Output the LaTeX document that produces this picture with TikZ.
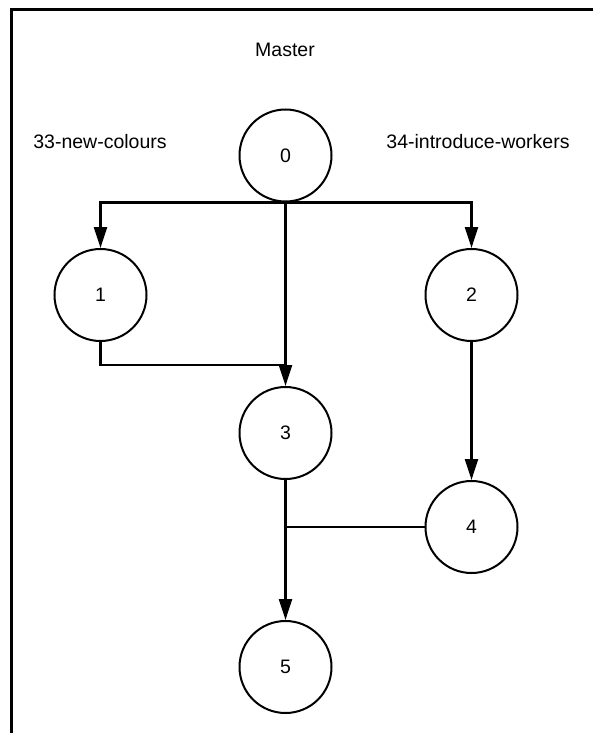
\documentclass[tikz,border=0pt]{standalone}
\usepackage{fontspec}
\setmainfont{Liberation Sans}
\usetikzlibrary{arrows.meta}
\begin{document}
\begin{tikzpicture}[x=1pt,y=-1pt,
  statenode/.style={draw=black,line width=2pt,circle,minimum size=92pt,inner sep=0pt,font=\fontsize{19.5}{23}\selectfont},
  lbl/.style={font=\fontsize{19.5}{23}\selectfont,inner sep=0pt},
  conn/.style={line width=2.3pt,draw=black},
  arr/.style={conn,-{Triangle[length=21pt,width=13pt]}}]
\useasboundingbox (0,0) rectangle (593,733);
\draw[line width=3pt] (11.5,760) -- (11.5,9.5) -- (620,9.5);
\node[lbl] (master) at (285,50) {Master};
\node[lbl] (b33) at (100,142) {33-new-colours};
\node[lbl] (b34) at (478,142) {34-introduce-workers};
\node[statenode] (n0) at (285.5,155.5) {0};
\node[statenode] (n1) at (100.5,295) {1};
\node[statenode] (n2) at (471.5,295) {2};
\node[statenode] (n3) at (285.5,433) {3};
\node[statenode] (n4) at (471.5,527) {4};
\node[statenode] (n5) at (285.5,667) {5};
\coordinate (j1) at (285.5,365);
\draw[arr] (n0.south) -| (n1.north);
\draw[arr] (n0.south) -| (n2.north);
\draw[arr] (n0.south) -- (n3.north);
\draw[conn] (n1.south) |- (j1);
\draw[arr] (n2.south) -- (n4.north);
\draw[conn] (n4.west) -- (n4.west -| n3.south);
\draw[arr] (n3.south) -- (n5.north);
\end{tikzpicture}
\end{document}
